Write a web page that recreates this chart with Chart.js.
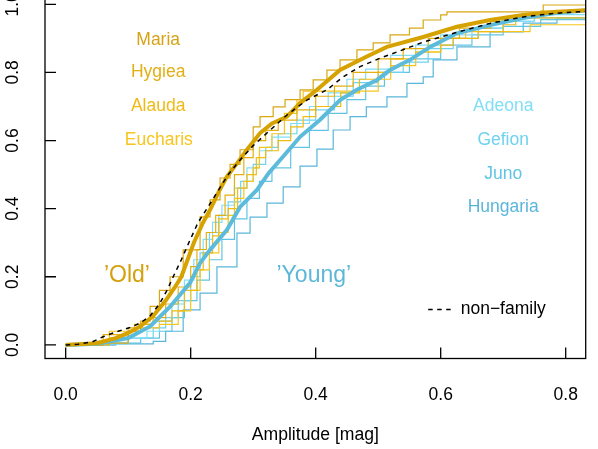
<!DOCTYPE html>
<html>
<head>
<meta charset="utf-8">
<script src="https://cdn.jsdelivr.net/npm/chart.js@4"></script>
<style>
  html, body { margin: 0; padding: 0; background: #fff; overflow: hidden; }
  #wrap { position: absolute; left: 0; top: -20px; width: 598px; height: 469px; }
</style>
</head>
<body>
<div id="wrap"><canvas id="ampChart" width="598" height="469"></canvas></div>
<script>
const xTicks = [0, 0.2, 0.4, 0.6, 0.8];
const yTicks = [0, 0.2, 0.4, 0.6, 0.8, 1.0];

// cumulative fraction vs amplitude, [amplitude, fraction]
const maria = [[0,0],[0.06,0.005],[0.1,0.04],[0.12,0.07],[0.135,0.113],[0.15,0.16],[0.167,0.2],[0.188,0.279],
  [0.215,0.376],[0.231,0.426],[0.247,0.49],[0.263,0.53],[0.279,0.573],[0.3,0.64],[0.311,0.67],[0.332,0.699],
  [0.351,0.72],[0.375,0.749],[0.396,0.778],[0.418,0.807],[0.439,0.837],[0.466,0.866],[0.492,0.887],[0.519,0.91],
  [0.55,0.93],[0.572,0.954],[0.6,0.969],[0.61,0.978],[0.764,0.998],[0.84,0.998]];
const hygiea = [[0,0],[0.05,0.01],[0.06,0.03],[0.1,0.04],[0.12,0.06],[0.14,0.08],[0.16,0.12],[0.18,0.17],[0.2,0.23],
  [0.21,0.28],[0.225,0.33],[0.24,0.38],[0.255,0.44],[0.27,0.5],[0.285,0.55],[0.3,0.6],[0.32,0.63],[0.34,0.66],
  [0.37,0.69],[0.4,0.73],[0.43,0.76],[0.46,0.8],[0.5,0.84],[0.54,0.87],[0.58,0.9],[0.63,0.93],[0.68,0.95],
  [0.72,0.97],[0.76,0.98],[0.84,0.99]];
const alauda = [[0,0],[0.07,0.02],[0.1,0.05],[0.11,0.06],[0.14,0.07],[0.17,0.1],[0.19,0.16],[0.21,0.22],[0.22,0.27],
  [0.235,0.32],[0.245,0.37],[0.26,0.4],[0.275,0.46],[0.29,0.5],[0.305,0.55],[0.32,0.57],[0.34,0.6],[0.36,0.64],
  [0.38,0.67],[0.4,0.7],[0.44,0.74],[0.47,0.78],[0.5,0.8],[0.52,0.84],[0.56,0.86],[0.6,0.88],[0.62,0.9],
  [0.66,0.92],[0.7,0.94],[0.72,0.96],[0.84,0.96]];
const eucharis = [[0,0],[0.05,0.005],[0.07,0.04],[0.12,0.05],[0.15,0.06],[0.18,0.1],[0.2,0.16],[0.215,0.22],
  [0.23,0.27],[0.245,0.33],[0.26,0.38],[0.27,0.43],[0.285,0.48],[0.3,0.52],[0.31,0.58],[0.33,0.62],[0.35,0.68],
  [0.37,0.72],[0.38,0.745],[0.49,0.745],[0.5,0.78],[0.52,0.82],[0.56,0.86],[0.6,0.9],[0.64,0.92],[0.743,0.94],
  [0.84,0.94]];
const adeona = [[0,0],[0.05,0.003],[0.1,0.02],[0.13,0.04],[0.15,0.07],[0.17,0.12],[0.19,0.19],[0.205,0.25],
  [0.22,0.31],[0.235,0.36],[0.25,0.41],[0.27,0.46],[0.29,0.52],[0.31,0.57],[0.33,0.61],[0.36,0.65],[0.39,0.7],
  [0.42,0.74],[0.45,0.78],[0.48,0.81],[0.52,0.85],[0.56,0.88],[0.6,0.91],[0.65,0.93],[0.7,0.95],[0.75,0.97],
  [0.84,0.98]];
const gefion = [[0,0],[0.06,0.005],[0.1,0.02],[0.14,0.05],[0.16,0.08],[0.18,0.13],[0.2,0.2],[0.215,0.27],
  [0.23,0.33],[0.245,0.38],[0.26,0.42],[0.28,0.48],[0.3,0.53],[0.32,0.58],[0.34,0.62],[0.37,0.66],[0.4,0.69],
  [0.43,0.73],[0.46,0.77],[0.5,0.8],[0.54,0.83],[0.58,0.87],[0.62,0.9],[0.66,0.93],[0.7,0.95],[0.75,0.96],
  [0.84,0.97]];
const juno = [[0,0],[0.08,0.005],[0.12,0.02],[0.15,0.04],[0.17,0.08],[0.19,0.13],[0.21,0.19],[0.23,0.25],
  [0.25,0.31],[0.27,0.37],[0.29,0.43],[0.31,0.48],[0.33,0.52],[0.36,0.58],[0.39,0.63],[0.42,0.68],[0.45,0.72],
  [0.48,0.76],[0.51,0.8],[0.55,0.84],[0.6,0.88],[0.65,0.91],[0.7,0.935],[0.76,0.955],[0.84,0.955]];
const hungaria = [[0,0],[0.08,0.003],[0.14,0.01],[0.16,0.04],[0.188,0.103],[0.215,0.152],[0.242,0.229],
  [0.274,0.328],[0.295,0.375],[0.322,0.416],[0.348,0.464],[0.375,0.525],[0.402,0.575],[0.428,0.631],
  [0.455,0.67],[0.481,0.699],[0.514,0.728],[0.546,0.768],[0.572,0.787],[0.588,0.837],[0.626,0.875],
  [0.679,0.919],[0.732,0.945],[0.786,0.96],[0.84,0.975]];
const oldAll = [[0,0],[0.05,0.005],[0.08,0.02],[0.1,0.035],[0.12,0.055],[0.14,0.085],[0.16,0.13],[0.175,0.17],
  [0.185,0.2],[0.205,0.3],[0.22,0.36],[0.232,0.4],[0.245,0.45],[0.258,0.494],[0.275,0.535],[0.29,0.573],
  [0.311,0.622],[0.33,0.65],[0.354,0.67],[0.375,0.71],[0.402,0.749],[0.439,0.807],[0.481,0.846],[0.514,0.875],
  [0.572,0.904],[0.626,0.934],[0.679,0.954],[0.732,0.969],[0.786,0.978],[0.84,0.983]];
const youngAll = [[0,0],[0.05,0.003],[0.1,0.02],[0.135,0.054],[0.167,0.112],[0.199,0.182],[0.215,0.24],
  [0.231,0.279],[0.258,0.338],[0.279,0.405],[0.306,0.455],[0.325,0.505],[0.348,0.553],[0.375,0.611],
  [0.407,0.661],[0.439,0.719],[0.466,0.749],[0.498,0.778],[0.519,0.807],[0.551,0.837],[0.583,0.875],
  [0.626,0.915],[0.679,0.939],[0.732,0.96],[0.786,0.975],[0.84,0.983]];
const nonFamily = [[0,0],[0.02,0.002],[0.044,0.01],[0.06,0.024],[0.082,0.039],[0.103,0.051],[0.12,0.065],
  [0.135,0.085],[0.15,0.12],[0.162,0.16],[0.172,0.2],[0.185,0.25],[0.197,0.3],[0.212,0.36],[0.226,0.4],
  [0.243,0.45],[0.26,0.5],[0.279,0.543],[0.3,0.585],[0.322,0.622],[0.354,0.675],[0.386,0.719],[0.418,0.749],
  [0.444,0.787],[0.471,0.817],[0.503,0.842],[0.53,0.86],[0.572,0.889],[0.626,0.918],[0.679,0.944],
  [0.732,0.963],[0.786,0.974],[0.84,0.98]];

const FONT = "'Liberation Sans', Arial, Helvetica, sans-serif";

function series(label, pts, color, width, order, opts) {
  return Object.assign({
    label: label,
    data: pts.map(p => ({ x: p[0], y: p[1] })),
    borderColor: color,
    borderWidth: width,
    pointRadius: 0,
    fill: false,
    tension: 0,
    order: order
  }, opts || {});
}

const familyLabels = [
  { text: "Maria", x: 0.148, y: 0.895, color: "#d6a316" },
  { text: "Hygiea", x: 0.148, y: 0.8, color: "#e2af14" },
  { text: "Alauda", x: 0.148, y: 0.7, color: "#efba14" },
  { text: "Eucharis", x: 0.149, y: 0.6, color: "#f7c61e" },
  { text: "Adeona", x: 0.7, y: 0.7, color: "#80def8" },
  { text: "Gefion", x: 0.7, y: 0.6, color: "#6ed2f0" },
  { text: "Juno", x: 0.7, y: 0.5, color: "#62c4e4" },
  { text: "Hungaria", x: 0.7, y: 0.403, color: "#5ab6da" }
];
const groupLabels = [
  { text: "\u2019Old\u2019", x: 0.098, y: 0.203, color: "#d4a00c" },
  { text: "\u2019Young\u2019", x: 0.397, y: 0.203, color: "#5cb8d8" }
];

// box, inward ticks, names and the little legend
const decor = {
  id: "decor",
  afterDatasetsDraw(chart) {
    const { ctx, chartArea: a, scales: { x, y } } = chart;
    ctx.save();
    ctx.strokeStyle = "#000";
    ctx.lineWidth = 1.3;
    ctx.strokeRect(a.left, a.top, a.right - a.left, a.bottom - a.top);
    ctx.beginPath();
    xTicks.forEach(v => {
      const px = x.getPixelForValue(v);
      ctx.moveTo(px, a.bottom);
      ctx.lineTo(px, a.bottom - 11);
    });
    yTicks.forEach(v => {
      const py = y.getPixelForValue(v);
      ctx.moveTo(a.left, py);
      ctx.lineTo(a.left + 11, py);
    });
    ctx.stroke();

    ctx.textAlign = "center";
    ctx.textBaseline = "middle";
    ctx.font = "17.5px " + FONT;
    familyLabels.forEach(l => {
      ctx.fillStyle = l.color;
      ctx.fillText(l.text, x.getPixelForValue(l.x), y.getPixelForValue(l.y));
    });
    ctx.font = "23px " + FONT;
    groupLabels.forEach(l => {
      ctx.fillStyle = l.color;
      ctx.fillText(l.text, x.getPixelForValue(l.x), y.getPixelForValue(l.y));
    });

    // legend entry
    const ly = y.getPixelForValue(0.104);
    ctx.setLineDash([4.5, 4.5]);
    ctx.lineWidth = 1.4;
    ctx.beginPath();
    ctx.moveTo(x.getPixelForValue(0.58), ly);
    ctx.lineTo(x.getPixelForValue(0.617), ly);
    ctx.stroke();
    ctx.setLineDash([]);
    ctx.fillStyle = "#000";
    ctx.textAlign = "left";
    ctx.font = "17.5px " + FONT;
    ctx.fillText("non\u2212family", x.getPixelForValue(0.632), ly);
    ctx.restore();
  }
};

new Chart(document.getElementById("ampChart"), {
  type: "line",
  data: {
    datasets: [
      series("non-family", nonFamily, "#000000", 1.5, 0, { borderDash: [4.5, 4.5] }),
      series("Old", oldAll, "#d6a200", 4, 1),
      series("Young", youngAll, "#5cbbda", 4, 2),
      series("Maria", maria, "#d9a614", 1.2, 3, { stepped: "before" }),
      series("Hygiea", hygiea, "#e4b010", 1.2, 4, { stepped: "before" }),
      series("Alauda", alauda, "#f0bb12", 1.2, 5, { stepped: "before" }),
      series("Eucharis", eucharis, "#f7c61c", 1.2, 6, { stepped: "before" }),
      series("Adeona", adeona, "#80def8", 1.2, 7, { stepped: "before" }),
      series("Gefion", gefion, "#6ed2f0", 1.2, 8, { stepped: "before" }),
      series("Juno", juno, "#62c4e4", 1.2, 9, { stepped: "before" }),
      series("Hungaria", hungaria, "#5ab6da", 1.2, 10, { stepped: "before" })
    ]
  },
  options: {
    responsive: false,
    animation: false,
    devicePixelRatio: 1,
    layout: { padding: { top: 10.7, right: 12.3, bottom: 0, left: 0 } },
    plugins: {
      legend: { display: false },
      tooltip: { enabled: false }
    },
    scales: {
      x: {
        type: "linear",
        min: -0.0331,
        max: 0.832,
        afterBuildTicks: s => { s.ticks = xTicks.map(v => ({ value: v })); },
        afterFit: s => { s.height = 90.5; s.paddingLeft = 0; s.paddingRight = 0; },
        grid: { display: false, drawTicks: false },
        border: { display: false },
        ticks: {
          color: "#000",
          font: { family: FONT, size: 17.5 },
          padding: 26,
          maxRotation: 0,
          autoSkip: false,
          callback: v => v.toFixed(1)
        },
        title: {
          display: true,
          text: "Amplitude [mag]",
          color: "#000",
          font: { family: FONT, size: 17.6 },
          padding: { top: 0, bottom: 3 }
        }
      },
      y: {
        type: "linear",
        min: -0.04,
        max: 1.04,
        afterBuildTicks: s => { s.ticks = yTicks.map(v => ({ value: v })); },
        afterFit: s => { s.width = 45; s.paddingTop = 0; s.paddingBottom = 0; },
        grid: { display: false, drawTicks: false },
        border: { display: false },
        ticks: {
          color: "#000",
          font: { family: FONT, size: 17.5 },
          padding: 20,
          minRotation: 90,
          maxRotation: 90,
          crossAlign: "center",
          autoSkip: false,
          callback: v => v.toFixed(1)
        }
      }
    }
  },
  plugins: [decor]
});
</script>
</body>
</html>
